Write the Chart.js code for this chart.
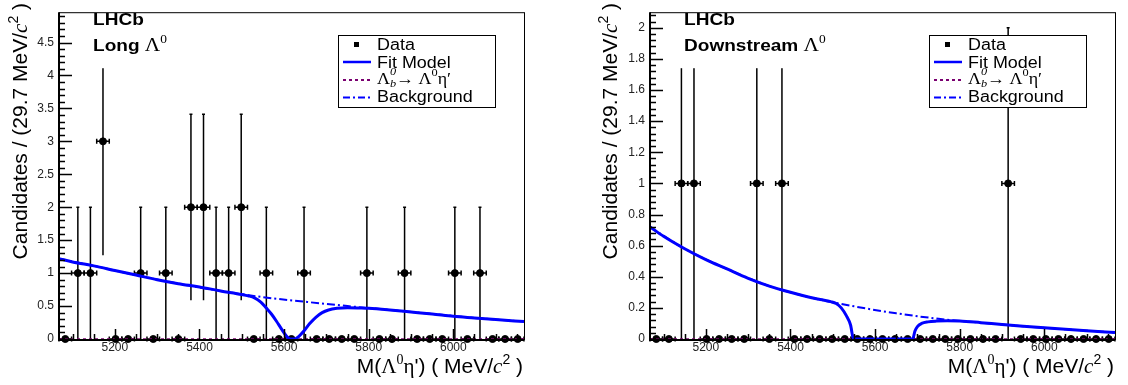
<!DOCTYPE html>
<html>
<head>
<meta charset="utf-8">
<script src="https://cdn.jsdelivr.net/npm/chart.js@4.4.1/dist/chart.umd.min.js"></script>
<style>
body { margin: 0; background: #fff; }
#wrap { position: relative; width: 1128px; height: 385px; }
.panel { position: absolute; top: 0; width: 564px; height: 385px; }
</style>
</head>
<body>
<div id="wrap">
  <div class="panel" style="left:0"><canvas id="longChart" width="564" height="385"></canvas></div>
  <div class="panel" style="left:564px"><canvas id="downChart" width="564" height="385"></canvas></div>
</div>
<script>
// binning of M(Lambda0 eta') : 37 bins of 29.7 MeV
var xMin = 5068, xMax = 6167, binWidth = 29.7;
var xTicks = [5200, 5400, 5600, 5800, 6000];
var xTickLabels = ['5200', '5400', '5600', '5800', '6000'];

// Long Lambda0 sample
var countsLong = [0,1,1,3,0,0,1,0,1,0,2,2,1,1,2,0,1,0,0,1,0,0,0,0,1,0,0,1,0,0,0,1,0,1,0,0,0];
var errLong    = [0,1,1,1.73,0,0,1,0,1,0,1.41,1.41,1,1,1.41,0,1,0,0,1,0,0,0,0,1,0,0,1,0,0,0,1,0,1,0,0,0];
var fitXLong = [5068,5100,5150,5200,5250,5300,5350,5400,5450,5500,5515,5530,5545,5558,5570,5582,5594,5606,5615,5625,5635,5648,5660,5675,5690,5705,5725,5750,5780,5800,5850,5900,5950,6000,6050,6100,6167];
var fitYLong = [1.22,1.17,1.11,1.04,0.97,0.90,0.84,0.79,0.73,0.675,0.655,0.625,0.56,0.47,0.38,0.27,0.15,0.04,0,0,0.04,0.13,0.23,0.33,0.40,0.44,0.465,0.475,0.47,0.465,0.44,0.41,0.38,0.345,0.32,0.295,0.265];
var bkgXLong = [5068,5150,5250,5350,5450,5550,5650,5750,5850,5950,6050,6167];
var bkgYLong = [1.22,1.11,0.97,0.84,0.73,0.635,0.565,0.50,0.44,0.38,0.32,0.265];
var yTicksLong = [0,0.5,1,1.5,2,2.5,3,3.5,4,4.5];
var yLabelsLong = ['0','0.5','1','1.5','2','2.5','3','3.5','4','4.5'];

// Downstream Lambda0 sample
var countsDown = [0,0,1,1,0,0,0,0,1,0,1,0,0,0,0,0,0,0,0,0,0,0,0,0,0,0,0,0,1,0,0,0,0,0,0,0,0];
var errDown    = [0,0,1,1,0,0,0,0,1,0,1,0,0,0,0,0,0,0,0,0,0,0,0,0,0,0,0,0,1,0,0,0,0,0,0,0,0];
var fitXDown = [5068,5100,5150,5200,5250,5300,5350,5400,5450,5475,5495,5508,5520,5532,5542,5549,5600,5650,5689,5694,5700,5710,5725,5745,5770,5800,5850,5900,5950,6000,6050,6100,6167];
var fitYDown = [0.72,0.66,0.58,0.51,0.45,0.39,0.34,0.30,0.265,0.252,0.24,0.228,0.20,0.15,0.09,0,0,0,0,0.05,0.08,0.10,0.11,0.115,0.117,0.116,0.105,0.093,0.082,0.072,0.062,0.053,0.042];
var bkgXDown = [5068,5150,5250,5350,5450,5550,5650,5750,5850,5950,6050,6167];
var bkgYDown = [0.72,0.58,0.45,0.34,0.265,0.21,0.165,0.13,0.105,0.082,0.062,0.042];
var yTicksDown = [0,0.2,0.4,0.6,0.8,1,1.2,1.4,1.6,1.8,2];
var yLabelsDown = ['0','0.2','0.4','0.6','0.8','1','1.2','1.4','1.6','1.8','2'];

// signal component sits on zero
var sigX = [5068, 6167];
var sigY = [0, 0];

var SANS = '"Liberation Sans", Arial, sans-serif';
var SERIF = '"Liberation Serif", "Times New Roman", serif';

function toPoints(xs, ys) {
  return xs.map(function (x, i) { return { x: x, y: ys[i] }; });
}

function binCenter(i) {
  return xMin + binWidth * (i + 0.5);
}

// draw a run of text pieces, each piece {t, f, dy, keep}
function drawRich(ctx, parts, x, y, align, sx) {
  sx = sx || 1;
  var w = 0;
  parts.forEach(function (p) {
    ctx.font = p.f;
    if (!p.keep) w += ctx.measureText(p.t).width;
  });
  ctx.save();
  ctx.translate(x, y);
  ctx.scale(sx, 1);
  var cx = align === 'right' ? -w : 0;
  ctx.textAlign = 'left';
  ctx.textBaseline = 'alphabetic';
  parts.forEach(function (p) {
    ctx.font = p.f;
    ctx.fillText(p.t, cx, p.dy || 0);
    if (!p.keep) cx += ctx.measureText(p.t).width;
  });
  ctx.restore();
}

function makePanel(id, p) {
  var dataPts = p.counts.map(function (c, i) { return { x: binCenter(i), y: c }; });

  var rootPlugin = {
    id: 'rootStyle',
    beforeDatasetsDraw: function (chart) {
      // Poisson error bars of the data
      var ctx = chart.ctx, xs = chart.scales.x, ys = chart.scales.y;
      ctx.save();
      ctx.strokeStyle = '#000';
      ctx.lineWidth = 1.5;
      p.counts.forEach(function (c, i) {
        var cx = xs.getPixelForValue(binCenter(i));
        var cy = ys.getPixelForValue(c);
        var x0 = xs.getPixelForValue(binCenter(i) - binWidth / 2);
        var x1 = xs.getPixelForValue(binCenter(i) + binWidth / 2);
        ctx.beginPath();
        ctx.moveTo(x0, cy); ctx.lineTo(x1, cy);
        ctx.moveTo(x0, cy - 2.5); ctx.lineTo(x0, cy + 2.5);
        ctx.moveTo(x1, cy - 2.5); ctx.lineTo(x1, cy + 2.5);
        if (p.errs[i] > 0) {
          var yTop = ys.getPixelForValue(c + p.errs[i]);
          var yBot = ys.getPixelForValue(Math.max(0, c - p.errs[i]));
          ctx.moveTo(cx, yTop); ctx.lineTo(cx, yBot);
          ctx.moveTo(cx - 1.5, yTop); ctx.lineTo(cx + 1.5, yTop);
        }
        ctx.stroke();
      });
      ctx.restore();
    },
    afterDatasetsDraw: function (chart) {
      var ctx = chart.ctx, a = chart.chartArea;
      ctx.save();

      // white label box with LHCb text
      ctx.fillStyle = '#fff';
      ctx.fillRect(a.left + 21, a.top + 1, 170, 55);
      ctx.fillStyle = '#000';
      drawRich(ctx, [{ t: 'LHCb', f: 'bold 17px ' + SANS }], a.left + 34, 25, 'left', 1.12);
      drawRich(ctx, [
        { t: p.tag + ' ', f: 'bold 17px ' + SANS },
        { t: 'Λ', f: '19px ' + SERIF },
        { t: '0', f: '12px ' + SERIF, dy: -8 }
      ], a.left + 34, 51, 'left', 1.12);

      // legend box
      var lx = a.left + 279, ly = 35;
      ctx.fillStyle = '#fff';
      ctx.fillRect(lx, ly, 157, 72);
      ctx.strokeStyle = '#000';
      ctx.lineWidth = 1;
      ctx.strokeRect(lx + 0.5, ly + 0.5, 157, 72);
      ctx.fillStyle = '#000';
      ctx.fillRect(lx + 16, 42, 5, 5);
      ctx.lineWidth = 2.5;
      ctx.strokeStyle = '#0000ff';
      ctx.beginPath(); ctx.moveTo(lx + 5, 62); ctx.lineTo(lx + 33, 62); ctx.stroke();
      ctx.lineWidth = 2;
      ctx.strokeStyle = '#7a0070';
      ctx.setLineDash([3, 3]);
      ctx.beginPath(); ctx.moveTo(lx + 5, 80); ctx.lineTo(lx + 33, 80); ctx.stroke();
      ctx.strokeStyle = '#0000ff';
      ctx.setLineDash([7, 3, 2, 3]);
      ctx.beginPath(); ctx.moveTo(lx + 5, 97.5); ctx.lineTo(lx + 33, 97.5); ctx.stroke();
      ctx.setLineDash([]);
      ctx.fillStyle = '#000';
      var tx = lx + 39;
      drawRich(ctx, [{ t: 'Data', f: '16px ' + SANS }], tx, 50, 'left', 1.12);
      drawRich(ctx, [{ t: 'Fit Model', f: '16px ' + SANS }], tx, 67.5, 'left', 1.12);
      drawRich(ctx, [
        { t: 'Λ', f: '16px ' + SERIF },
        { t: '0', f: 'italic 11px ' + SERIF, dy: -9, keep: true },
        { t: 'b', f: 'italic 11px ' + SERIF, dy: 3 },
        { t: '→ ', f: '16px ' + SERIF },
        { t: 'Λ', f: '16px ' + SERIF },
        { t: '0', f: '11px ' + SERIF, dy: -8 },
        { t: 'η′', f: '16px ' + SERIF }
      ], tx, 83.5, 'left', 1.12);
      drawRich(ctx, [{ t: 'Background', f: '16px ' + SANS }], tx, 101.5, 'left', 1.12);
      ctx.restore();
    },
    afterDraw: function (chart) {
      var ctx = chart.ctx, a = chart.chartArea, xs = chart.scales.x, ys = chart.scales.y;
      ctx.save();
      // frame
      ctx.strokeStyle = '#000';
      ctx.lineWidth = 1;
      ctx.strokeRect(a.left + 0.5, a.top + 0.5, a.right - a.left, a.bottom - a.top);
      ctx.lineWidth = 2;
      ctx.beginPath();
      ctx.moveTo(a.left, a.top); ctx.lineTo(a.left, a.bottom + 1); ctx.lineTo(a.right, a.bottom + 1);
      ctx.stroke();

      // ticks, drawn inside the frame as in ROOT
      ctx.lineWidth = 1.5;
      ctx.beginPath();
      for (var v = 0; v <= p.yMax + 1e-9; v += p.yMinor) {
        var y = Math.round(ys.getPixelForValue(v)) + 0.5;
        var major = Math.abs(v / p.yMajor - Math.round(v / p.yMajor)) < 1e-6;
        ctx.moveTo(a.left, y); ctx.lineTo(a.left + (major ? 13 : 6), y);
      }
      for (var xv = 5100; xv <= xMax; xv += 50) {
        var x = Math.round(xs.getPixelForValue(xv)) + 0.5;
        var bigX = xv % 200 === 0;
        ctx.moveTo(x, a.bottom); ctx.lineTo(x, a.bottom - (bigX ? 10 : 5));
      }
      ctx.stroke();

      // axis titles
      ctx.fillStyle = '#000';
      drawRich(ctx, [
        { t: 'M(', f: '21px ' + SANS },
        { t: 'Λ', f: '21px ' + SERIF },
        { t: '0', f: '14px ' + SERIF, dy: -9 },
        { t: 'η', f: '21px ' + SERIF },
        { t: '\') ( MeV/', f: '21px ' + SANS },
        { t: 'c', f: 'italic 21px ' + SERIF },
        { t: '2', f: '14px ' + SANS, dy: -9 },
        { t: ' )', f: '21px ' + SANS }
      ], a.right - 1, 373, 'right', 1.0);
      ctx.save();
      ctx.translate(p.titleX, 3);
      ctx.rotate(-Math.PI / 2);
      drawRich(ctx, [
        { t: 'Candidates / (29.7 MeV/', f: '21px ' + SANS },
        { t: 'c', f: 'italic 21px ' + SERIF },
        { t: '2', f: '14px ' + SANS, dy: -9 },
        { t: ' )', f: '21px ' + SANS }
      ], 0, 0, 'right', 1.0);
      ctx.restore();
      ctx.restore();
    }
  };

  return new Chart(document.getElementById(id), {
    data: {
      datasets: [
        {
          type: 'line', label: 'Fit Model', data: toPoints(p.fitX, p.fitY),
          borderColor: '#0000ff', borderWidth: 3, pointRadius: 0,
          cubicInterpolationMode: 'monotone', clip: false, order: 0
        },
        {
          type: 'line', label: 'Background', data: toPoints(p.bkgX, p.bkgY),
          borderColor: '#0000ff', borderWidth: 2, borderDash: [8, 3, 2, 3], pointRadius: 0,
          cubicInterpolationMode: 'monotone', clip: false, order: 1
        },
        {
          type: 'line', label: 'Signal', data: toPoints(sigX, sigY),
          borderColor: '#7a0070', borderWidth: 1.5, borderDash: [3, 3], pointRadius: 0,
          clip: false, order: 2
        },
        {
          type: 'scatter', label: 'Data', data: dataPts,
          backgroundColor: '#000', borderColor: '#000', pointRadius: 3.5,
          clip: false, order: 3
        }
      ]
    },
    options: {
      responsive: false,
      animation: false,
      devicePixelRatio: 1,
      layout: { padding: { left: 0, right: p.padRight, top: 2, bottom: 0 } },
      plugins: { legend: { display: false }, tooltip: { enabled: false } },
      scales: {
        x: {
          type: 'linear', min: xMin, max: xMax,
          grid: { display: false, drawTicks: false }, border: { display: false },
          afterBuildTicks: function (s) { s.ticks = xTicks.map(function (v) { return { value: v }; }); },
          afterFit: function (s) { s.height = 46; },
          ticks: {
            padding: 1, color: '#222', font: { family: SANS, size: 12 }, maxRotation: 0,
            callback: function (v, i) { return xTickLabels[i]; }
          }
        },
        y: {
          type: 'linear', min: 0, max: p.yMax,
          grid: { display: false, drawTicks: false }, border: { display: false },
          afterBuildTicks: function (s) { s.ticks = p.yTicks.map(function (v) { return { value: v }; }); },
          afterFit: function (s) { s.width = p.axisWidth; },
          ticks: {
            padding: 5, color: '#222', font: { family: SANS, size: 12 },
            callback: function (v, i) { return p.yLabels[i]; }
          }
        }
      }
    },
    plugins: [rootPlugin]
  });
}

makePanel('longChart', {
  counts: countsLong, errs: errLong, fitX: fitXLong, fitY: fitYLong,
  bkgX: bkgXLong, bkgY: bkgYLong, yTicks: yTicksLong, yLabels: yLabelsLong,
  yMax: 4.96, yMajor: 0.5, yMinor: 0.1, tag: 'Long',
  axisWidth: 59, padRight: 40, titleX: 27
});

makePanel('downChart', {
  counts: countsDown, errs: errDown, fitX: fitXDown, fitY: fitYDown,
  bkgX: bkgXDown, bkgY: bkgYDown, yTicks: yTicksDown, yLabels: yLabelsDown,
  yMax: 2.1, yMajor: 0.2, yMinor: 0.04, tag: 'Downstream',
  axisWidth: 86, padRight: 13, titleX: 53
});
</script>
</body>
</html>
